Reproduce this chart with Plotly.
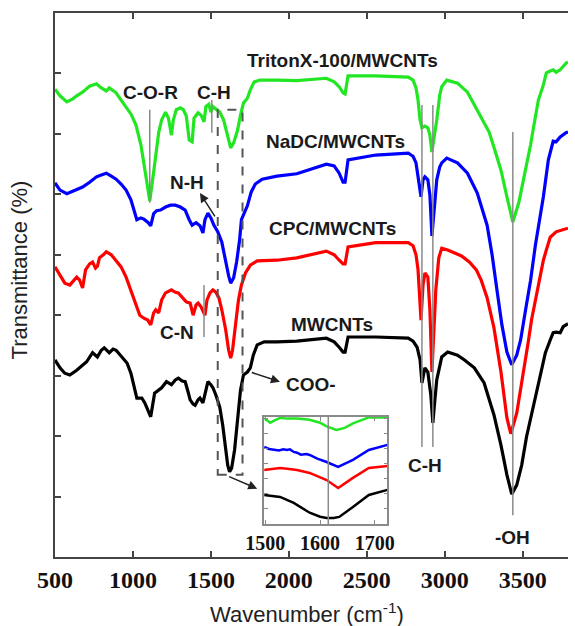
import plotly.graph_objects as go

# ---------------- main spectra (wavenumber cm-1, transmittance a.u.) ----------------
GREEN_WN = [500,532,576,614,639,677,722,766,797,829,848,892,924,956,987,1019,1051,1082,1108,1133,
            1165,1184,1209,1228,1247,1259,1278,1304,1323,1342,1361,1380,1392,1418,1437,1456,1468,1487,1500,1513,
            1532,1557,1582,1608,1627,1646,1671,1690,1709,1734,1753,1778,1816,1924,2051,2241,2291,2323,2348,2361,
            2380,2557,2766,2797,2816,2829,2842,2854,2873,2892,2905,2918,2930,2949,2968,2981,3013,3082,3146,3209,
            3253,3285,3316,3361,3399,3437,3475,3506,3525,3551,3570,3601,3633,3652,3677,3696,3715,3741,3778,3791]
GREEN_T = [77.4,76.3,75.3,75.8,76.3,76.9,77.9,78.3,77.6,77.1,77.6,76.8,75.6,74.5,73.3,71.5,68.2,63.2,58.9,63.7,
           70.2,72.3,73.6,72.6,69.8,72.3,74.0,74.3,74.0,73.0,69.0,68.7,72.6,73.5,73.1,72.0,74.5,74.9,73.6,74.5,
           74.1,73.6,72.3,69.3,67.7,68.5,70.6,73.1,75.1,75.9,77.3,78.6,78.9,78.9,78.8,79.2,78.6,77.8,76.8,76.6,
           79.6,79.6,79.4,78.9,77.6,75.6,72.3,71.0,71.3,71.0,69.8,67.0,69.0,72.3,76.4,77.8,78.9,78.4,76.9,74.0,
           72.0,70.3,67.8,64.0,59.6,55.4,58.6,62.4,64.5,68.2,71.1,75.6,78.1,80.1,80.4,80.6,80.2,80.6,81.7,81.9]

BLUE_WN = [500,532,576,627,677,722,766,797,829,861,892,924,956,987,1013,1025,1051,1070,1095,1114,
           1133,1152,1177,1209,1241,1272,1304,1335,1361,1380,1405,1430,1449,1462,1481,1500,1519,1544,1570,1595,
           1614,1627,1646,1665,1684,1696,1715,1734,1759,1785,1829,1924,2051,2241,2291,2323,2348,2361,2380,2557,
           2766,2797,2816,2829,2848,2861,2873,2892,2905,2918,2930,2949,2968,2981,3013,3082,3146,3209,3272,3304,
           3335,3367,3399,3430,3462,3487,3519,3551,3582,3614,3633,3665,3696,3715,3741,3778,3791]
BLUE_T = [61.9,60.7,60.1,60.7,61.2,62.0,62.9,63.2,63.5,63.0,62.5,61.7,60.7,59.1,57.1,55.8,56.1,55.9,55.4,54.8,
          56.8,57.3,57.4,57.9,58.2,58.2,57.9,57.4,55.8,54.9,55.3,54.8,53.6,55.8,56.9,56.1,54.9,53.8,52.1,48.8,
          46.5,45.3,46.2,48.8,52.4,55.8,57.1,58.1,60.4,61.7,62.5,63.0,63.4,65.0,64.7,63.5,62.0,62.0,65.7,66.5,
          66.8,66.3,65.2,63.2,59.6,62.4,62.9,62.4,59.9,53.1,56.6,62.4,64.5,65.2,66.0,65.2,63.5,60.2,54.9,50.0,
          44.2,38.4,33.9,31.8,33.4,35.9,40.9,45.8,51.6,56.6,59.6,65.7,68.8,68.7,69.5,70.2,70.3]

RED_WN = [500,532,563,595,620,639,658,677,696,722,741,760,772,785,810,829,861,892,924,956,
          987,1019,1044,1070,1095,1114,1133,1146,1165,1184,1209,1247,1272,1291,1316,1342,1367,1386,1405,1418,
          1437,1462,1475,1494,1513,1532,1551,1570,1595,1614,1627,1639,1658,1677,1696,1722,1753,1797,1924,2051,
          2241,2291,2323,2348,2361,2380,2557,2766,2797,2816,2829,2848,2861,2873,2892,2905,2918,2930,2943,2962,
          2981,3019,3063,3108,3158,3203,3234,3272,3316,3361,3399,3424,3462,3506,3538,3557,3582,3601,3633,3652,
          3677,3715,3753,3791]
RED_T = [48.0,46.5,45.3,45.0,45.8,46.3,45.8,44.5,47.5,48.5,48.8,47.8,48.1,49.5,50.0,50.5,50.0,49.1,48.0,46.3,
         44.2,42.0,40.0,39.5,39.2,38.4,40.4,40.9,40.4,42.5,43.7,44.2,43.8,43.7,43.0,42.2,42.0,40.0,41.7,42.0,
         41.4,40.0,42.5,43.7,44.2,43.8,42.9,40.9,37.6,34.2,32.9,34.2,38.4,42.5,45.0,47.0,48.3,49.0,49.1,49.5,
         50.6,50.0,49.1,48.5,48.5,51.3,52.0,52.0,51.5,50.0,47.5,39.2,45.0,47.0,46.3,40.9,30.6,37.6,44.2,49.5,
         51.1,50.8,50.3,49.8,48.8,47.5,45.8,42.9,37.9,30.6,23.0,20.4,23.8,30.4,35.9,39.2,42.5,44.7,49.1,50.8,
         52.9,53.8,54.1,54.4]

BLACK_WN = [500,532,563,595,639,671,703,741,772,797,816,848,873,892,930,962,987,1006,1025,1057,
            1076,1089,1114,1139,1165,1184,1215,1247,1272,1291,1316,1335,1354,1367,1386,1399,1418,1430,1449,1462,
            1481,1500,1513,1532,1557,1576,1595,1608,1620,1633,1652,1671,1690,1709,1734,1753,1772,1797,1842,1924,
            2051,2241,2291,2323,2348,2361,2380,2557,2766,2797,2823,2842,2854,2873,2892,2911,2924,2937,2949,2981,
            3019,3082,3127,3190,3253,3316,3361,3399,3430,3462,3494,3525,3557,3589,3614,3646,3677,3696,3715,3741,
            3760,3791]
BLACK_T = [32.6,31.3,30.4,30.1,30.9,31.6,32.3,33.8,33.1,34.2,34.6,33.8,34.4,34.2,33.1,32.1,30.4,28.5,26.3,26.3,
           25.5,24.7,23.2,27.1,27.6,28.0,29.0,28.5,29.3,29.6,29.1,29.0,27.3,26.0,25.3,25.1,26.0,26.3,25.5,26.8,
           29.0,28.5,28.0,26.8,24.8,21.8,17.7,15.2,14.1,14.7,17.7,22.7,27.6,30.1,30.6,31.3,33.4,35.1,35.6,35.6,
           35.7,36.2,35.6,34.7,33.9,33.9,36.4,36.4,36.2,35.7,34.7,32.6,28.8,31.3,30.6,26.8,22.2,26.0,29.3,33.1,
           33.9,33.4,32.6,31.3,28.8,23.5,18.5,13.6,10.4,11.9,15.2,19.9,23.5,27.3,30.1,33.8,35.9,37.1,37.2,37.1,
           38.1,38.6]

# ---------------- inset (1500-1720 cm-1) ----------------
IN_G_WN = [1498,1509,1520,1527,1540,1558,1581,1600,1612,1630,1645,1660,1689,1723]
IN_G_T = [7.05,6.75,6.95,7.07,7.02,7.02,6.95,6.75,6.5,6.27,6.4,6.7,7.1,7.1]
IN_B_WN = [1498,1507,1516,1525,1533,1540,1545,1552,1558,1565,1575,1581,1595,1612,1633,1660,1689,1723]
IN_B_T = [5.13,5.0,4.95,4.9,4.98,4.93,4.97,4.8,4.75,4.62,4.66,4.6,4.35,4.13,3.8,4.27,4.93,5.27]
IN_R_WN = [1498,1527,1540,1558,1581,1612,1633,1660,1689,1723]
IN_R_T = [3.6,3.73,3.68,3.6,3.4,2.93,2.4,3.07,3.73,3.87]
IN_K_WN = [1498,1527,1552,1581,1600,1612,1625,1635,1660,1689,1723]
IN_K_T = [1.93,1.8,1.4,0.75,0.48,0.4,0.4,0.47,1.13,1.93,2.27]

X_TICKS = [500, 1000, 1500, 2000, 2500, 3000, 3500]
INSET_TICKS = [1500, 1600, 1700]

GREEN = "#22E622"
BLUE = "#0000FF"
RED = "#FF0000"
BLACK = "#000000"
GRAY = "#8A8A8A"

fig = go.Figure()
for wn, t, c in [(GREEN_WN, GREEN_T, GREEN), (BLUE_WN, BLUE_T, BLUE),
                 (RED_WN, RED_T, RED), (BLACK_WN, BLACK_T, BLACK)]:
    fig.add_trace(go.Scatter(x=wn, y=t, mode="lines", line=dict(color=c, width=3.2),
                             showlegend=False, hoverinfo="skip", xaxis="x", yaxis="y"))
for wn, t, c in [(IN_G_WN, IN_G_T, GREEN), (IN_B_WN, IN_B_T, BLUE),
                 (IN_R_WN, IN_R_T, RED), (IN_K_WN, IN_K_T, BLACK)]:
    fig.add_trace(go.Scatter(x=wn, y=t, mode="lines", line=dict(color=c, width=2.5),
                             showlegend=False, hoverinfo="skip", xaxis="x2", yaxis="y3", cliponaxis=True))

axis_col = "#444444"
tickfont = dict(family="Liberation Serif", size=24, color="#111111", weight="bold")

fig.update_layout(
    width=575, height=626,
    margin=dict(l=55, r=0, t=13, b=69),
    paper_bgcolor="white", plot_bgcolor="white",
    xaxis=dict(domain=[0, 1], range=[500, 3791], tickvals=X_TICKS, ticks="inside", ticklen=6,
               tickwidth=1.5, tickcolor=axis_col, showline=True, linecolor=axis_col, linewidth=1.5,
               mirror="ticks", showgrid=False, zeroline=False, tickfont=tickfont, anchor="y"),
    yaxis=dict(domain=[0, 1], range=[0, 90], dtick=10, tick0=0, ticks="inside", ticklen=6,
               tickwidth=1.5, tickcolor=axis_col, showline=True, linecolor=axis_col, linewidth=1.5,
               mirror=False, showgrid=False, zeroline=False, showticklabels=False, anchor="x"),
    yaxis2=dict(overlaying="y", side="right", range=[0, 90], dtick=10, tick0=0, ticks="inside",
                ticklen=6, tickwidth=1.5, tickcolor=axis_col, showline=False, showgrid=False,
                zeroline=False, showticklabels=False, anchor="x"),
    xaxis2=dict(domain=[0.4077, 0.6481], range=[1498, 1723], tickvals=INSET_TICKS, ticks="inside",
                ticklen=4, tickwidth=1, tickcolor=GRAY, showline=True, linecolor=GRAY, linewidth=1.5,
                mirror="ticks", showgrid=False, zeroline=False, anchor="y3",
                tickfont=dict(family="Liberation Serif", size=20, color="#111111", weight="bold")),
    yaxis3=dict(domain=[0.0607, 0.2574], range=[0, 7.13], dtick=1, tick0=0, ticks="inside", ticklen=4,
                tickwidth=1, tickcolor=GRAY, showline=True, linecolor=GRAY, linewidth=1.5,
                mirror="ticks", showgrid=False, zeroline=False, showticklabels=False, anchor="x2"),
)

shapes = []
# marker lines at band positions
for x0, y0, y1 in [(1108, 58.6, 74.0), (1506, 70.2, 75.6), (1456, 36.4, 45.0),
                   (2854, 18.2, 74.8), (2924, 18.2, 74.8), (3437, 6.9, 70.3)]:
    shapes.append(dict(type="line", xref="x", yref="y", x0=x0, x1=x0, y0=y0, y1=y1,
                       line=dict(color=GRAY, width=1.5), layer="above"))
# dashed box around the 1600 band
shapes.append(dict(type="rect", xref="x", yref="y", x0=1544, x1=1703, y0=13.6, y1=74.0,
                   line=dict(color="#555555", width=2, dash="dash"), layer="above"))
# inset marker line
shapes.append(dict(type="line", xref="x2", yref="y3", x0=1615, x1=1615, y0=0, y1=7.13,
                   line=dict(color=GRAY, width=1.5)))
fig.update_layout(shapes=shapes)

lab = dict(family="Liberation Sans", size=19, color="#1a1a1a", weight="bold")
annotations = []
for text, x, y in [("TritonX-100/MWCNTs", 2342, 82.1), ("NaDC/MWCNTs", 2297, 68.7),
                   ("CPC/MWCNTs", 2278, 54.4), ("MWCNTs", 2278, 38.4),
                   ("C-O-R", 1114, 76.9), ("C-H", 1519, 76.9), ("N-H", 1348, 62.0),
                   ("C-N", 1285, 37.2), ("C-H", 2873, 15.2), ("-OH", 3437, 3.3)]:
    annotations.append(dict(text=text, x=x, y=y, xref="x", yref="y", showarrow=False,
                            font=lab, xanchor="center", yanchor="middle"))
annotations.append(dict(text="COO-", x=1968, y=28.5, xref="x", yref="y", showarrow=False,
                        font=lab, xanchor="left", yanchor="middle"))
# arrows
for (xh, yh, xt, yt) in [(1430, 60.2, 1532, 56.1), (1943, 29.0, 1753, 30.6), (1797, 11.3, 1608, 13.4)]:
    annotations.append(dict(text="", x=xh, y=yh, ax=xt, ay=yt, xref="x", yref="y", axref="x", ayref="y",
                            showarrow=True, arrowhead=2, arrowsize=1.2, arrowwidth=1.5,
                            arrowcolor="#222222"))
# axis titles
annotations.append(dict(text="Wavenumber (cm<sup>-1</sup>)", x=0.492, y=-0.103, xref="paper",
                        yref="paper", showarrow=False, xanchor="center", yanchor="middle",
                        font=dict(family="Liberation Sans", size=22, color="#222222")))
annotations.append(dict(text="Transmittance (%)", x=-0.0692, y=0.5276, xref="paper", yref="paper",
                        showarrow=False, xanchor="center", yanchor="middle", textangle=-90,
                        font=dict(family="Liberation Sans", size=22, color="#222222")))
fig.update_layout(annotations=annotations)

fig.write_html("out.html", config={"displayModeBar": False},
               post_script="document.body.style.margin='0';document.body.style.padding='0';")
